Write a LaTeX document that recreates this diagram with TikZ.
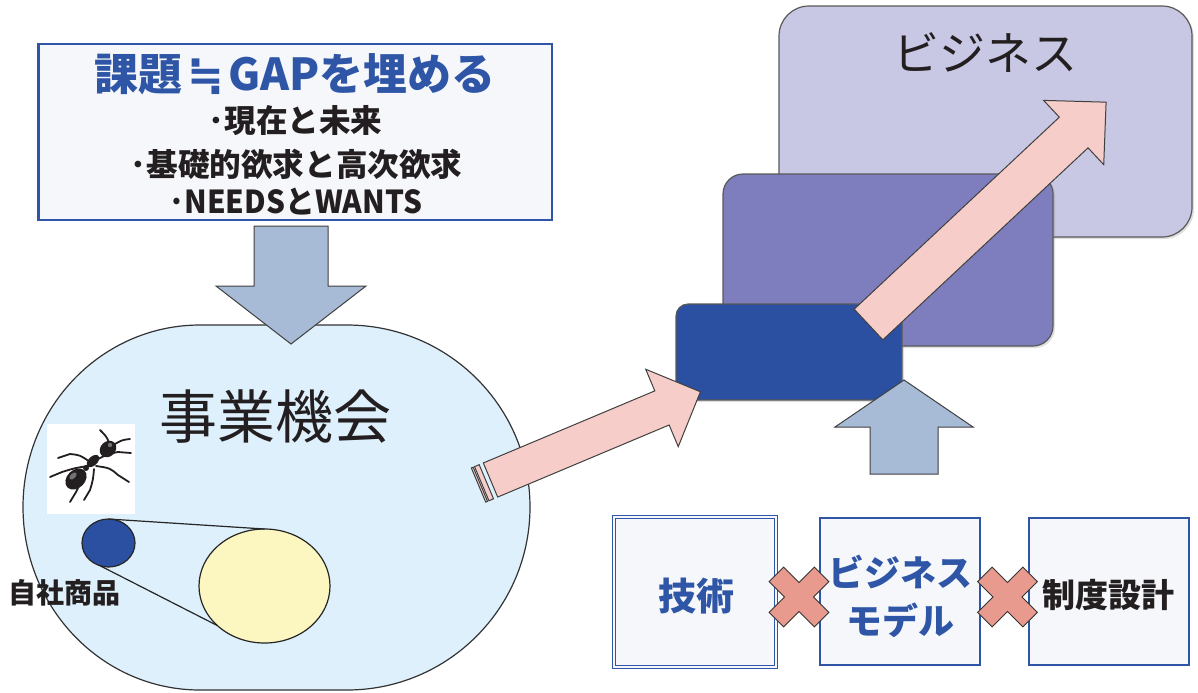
\documentclass[tikz,border=0pt]{standalone}
\usepackage{fontspec}
\newfontfamily\jp{Noto Sans CJK JP}
\newfontfamily\symfont{DejaVu Sans}
\usetikzlibrary{shapes.geometric,shadows}

\definecolor{boxblue}{HTML}{2F56A6}
\definecolor{boxfill}{HTML}{F5F7FA}
\definecolor{skyfill}{HTML}{DDF0FC}
\definecolor{navy}{HTML}{2B4FA1}
\definecolor{cream}{HTML}{FCF7C0}
\definecolor{pinkfill}{HTML}{F6CDC8}
\definecolor{steel}{HTML}{A7BBD7}
\definecolor{lavender}{HTML}{C8C7E4}
\definecolor{violet}{HTML}{7E7EBE}
\definecolor{crossfill}{HTML}{E99A8E}
\definecolor{ink}{HTML}{231F20}

\begin{document}
\begin{tikzpicture}[x=0.5pt,y=-0.5pt,font=\jp,
  panel/.style={rectangle,draw=boxblue,line width=1pt,fill=boxfill,inner sep=0pt,outer sep=0pt},
  blockarrow/.style={draw=black!75,line width=0.5pt,line join=miter},
  pinkarrow/.style={blockarrow,fill=pinkfill},
  steelarrow/.style={blockarrow,fill=steel},
  layer/.style={rectangle,draw=black!65,line width=0.6pt,inner sep=0pt,outer sep=0pt,
    drop shadow={shadow xshift=1pt,shadow yshift=-1pt,opacity=0.25}},
  crossmark/.style={draw=black!80,line width=0.5pt,fill=crossfill},
  blob/.style={ellipse,draw=black!85,line width=0.6pt,inner sep=0pt,outer sep=0pt},
  bluehead/.style={text=boxblue,font={\jp\bfseries\fontsize{22}{26}\selectfont}},
  listline/.style={text=ink,font={\jp\bfseries\fontsize{15.8}{19}\selectfont}},
  bigword/.style={text=ink,font={\jp\fontsize{29}{34}\selectfont}},
  cardtext/.style={font={\jp\bfseries\fontsize{18}{24}\selectfont},align=center}
]
\useasboundingbox (0,0) rectangle (1198,692);

% ---------- business opportunity field ----------
\draw[fill=skyfill,draw=black!80,line width=0.6pt]
  (200,325) -- (347,325)
  .. controls (448,325) and (530,406.5) .. (530,507)
  .. controls (530,608) and (448,690) .. (347,690)
  -- (200,690)
  .. controls (102.2,690) and (23,608) .. (23,507)
  .. controls (23,406.5) and (102.2,325) .. (200,325) -- cycle;
\node[bigword] (field) at (275,417) {事業機会};

% ant picture
\node[fill=white,minimum width=44pt,minimum height=45pt,inner sep=0pt] (antbox) at (91,469) {};
\begin{scope}[line cap=round]
  \draw[ink,line width=0.9pt]
    (90,462) .. controls (80,455) .. (70,454) -- (58,458)
    (88,466) .. controls (75,468) .. (62,472) -- (50,477)
    (84,473) .. controls (80,484) .. (76,492) -- (70,502)
    (94,469) .. controls (93,480) .. (90,490) -- (84,500)
    (96,460) .. controls (108,454) .. (118,452) -- (131,453)
    (96,466) .. controls (110,468) .. (118,475) -- (129,482)
    (109,442) .. controls (106,436) .. (100,430)
    (115,444) .. controls (122,440) .. (130,439);
  \fill[ink,rotate around={44:(76,479)}] (76,479) ellipse [x radius=12,y radius=9];
  \fill[black!55,rotate around={44:(73,476)}] (73,476) ellipse [x radius=4.5,y radius=2.5];
  \fill[ink] (86,468) circle [radius=3];
  \fill[ink,rotate around={44:(93,461)}] (93,461) ellipse [x radius=7.5,y radius=4.5];
  \fill[ink,rotate around={44:(108,449)}] (108,449) ellipse [x radius=9,y radius=7.5];
  \fill[black!55] (110,445) circle [radius=2.2];
\end{scope}

% own product versus the market
\node[blob,fill=navy,minimum width=26.5pt,minimum height=24pt] (product) at (108.5,543) {};
\node[blob,fill=cream,minimum width=65.5pt,minimum height=57pt] (market) at (264.5,586) {};
\draw[black!85,line width=0.6pt] (product.north) -- (market.north);
\draw[black!85,line width=0.6pt] (product.250) -- (market.220);
\node[text=ink,font={\jp\bfseries\fontsize{14}{17}\selectfont}] (own) at (65,593) {自社商品};

% ---------- issue box ----------
\node[panel,line width=1.2pt,minimum width=256.75pt,minimum height=88pt] (issue) at (295.25,132) {};
\node[bluehead] (issuetitle) at (295,74) {課題\hspace{2.5pt}{\symfont\bfseries ≒}\hspace{2.5pt}GAPを埋める};
\node[listline] (item1) at (295.5,121) {･現在と未来};
\node[listline] (item2) at (296.5,164) {･基礎的欲求と高次欲求};
\node[listline] (item3) at (296,202) {\scalebox{0.94}[1]{･NEEDSとWANTS}};

% downward block arrow into the field
\draw[steelarrow] (254,226) -- (328,226) -- (328,286) -- (366,286) -- (291,344)
  -- (216,286) -- (254,286) -- cycle;

% ---------- growth layers ----------
\node[layer,fill=lavender,rounded corners=15pt,minimum width=206.5pt,minimum height=115.5pt]
  (business) at (985.5,121.5) {};
\node[text=ink,font={\jp\fontsize{23}{28}\selectfont}] (businesslabel) at (985,53) {ビジネス};
\node[layer,fill=violet,rounded corners=10pt,minimum width=165pt,minimum height=86pt]
  (middle) at (888,260) {};
\node[layer,fill=navy,rounded corners=6pt,minimum width=113pt,minimum height=48pt]
  (seed) at (789,352) {};

% diagonal growth arrow
\begin{scope}[shift={(868.5,324.5)},rotate=43.1]
  \draw[pinkarrow] (0,-21) -- (281,-21) -- (281,-44) -- (325.4,0) -- (281,44)
    -- (281,21) -- (0,21) -- cycle;
\end{scope}

% upward block arrow from the enablers
\draw[steelarrow] (870,474) -- (938,474) -- (938,427) -- (973,427) -- (904,380)
  -- (835,427) -- (870,427) -- cycle;

% striped arrow from the field to the first layer
\begin{scope}[shift={(490.5,480)},rotate=22.8]
  \draw[pinkarrow] (-13,-18.5) rectangle (-11,18.5);
  \draw[pinkarrow] (-9.5,-18.5) rectangle (-4.5,18.5);
  \draw[pinkarrow] (0,-18.5) -- (186,-18.5) -- (186,-42) -- (227.7,0) -- (186,42)
    -- (186,18.5) -- (0,18.5) -- cycle;
\end{scope}

% ---------- enablers ----------
\node[panel,line width=0.6pt,double=boxfill,double distance=0.8pt,minimum width=81pt,minimum height=75pt]
  (tech) at (695,592) {};
\node[text=boxblue,font={\jp\bfseries\fontsize{19}{23}\selectfont}] (techlabel) at (696,596) {技術};
\node[panel,minimum width=80pt,minimum height=73.5pt] (model) at (900,591.5) {};
\node[cardtext,text=boxblue] (modellabel) at (900,596) {ビジネス\\モデル};
\node[panel,minimum width=80pt,minimum height=73.5pt] (rules) at (1108.5,591.5) {};
\node[text=ink,font={\jp\bfseries\fontsize{16.5}{20}\selectfont}] (ruleslabel) at (1108,595) {制度設計};

% multiplication marks between the enablers
\foreach \cx in {799,1007.5}{
  \begin{scope}[shift={(\cx,597)},rotate=45]
    \draw[crossmark] (32,10.25) -- (10.25,10.25) -- (10.25,32) -- (-10.25,32) -- (-10.25,10.25)
      -- (-32,10.25) -- (-32,-10.25) -- (-10.25,-10.25) -- (-10.25,-32) -- (10.25,-32)
      -- (10.25,-10.25) -- (32,-10.25) -- cycle;
  \end{scope}
}
\end{tikzpicture}
\end{document}
